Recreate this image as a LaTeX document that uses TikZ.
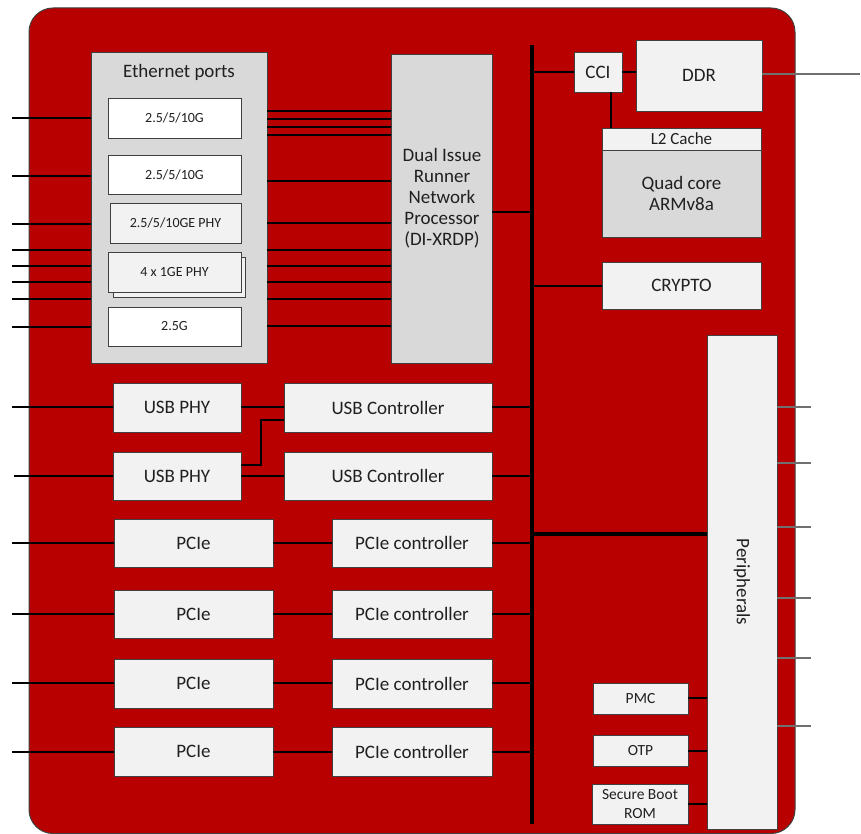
\documentclass[tikz,border=0pt]{standalone}
\usepackage{fontspec}
\setmainfont{Carlito}
\definecolor{chip}{HTML}{B90000}
\definecolor{gA}{HTML}{D9D9D9}
\definecolor{gB}{HTML}{F2F2F2}
\definecolor{edge}{HTML}{404040}
\definecolor{txt}{HTML}{202020}
\definecolor{outl}{HTML}{707070}
\tikzset{
  bx/.style={draw=edge, line width=0.8pt, inner sep=1pt, outer sep=0pt, text=txt, align=center, font=\fontsize{19}{21}\selectfont},
  sm/.style={font=\fontsize{14}{16}\selectfont},
  md/.style={font=\fontsize{15.5}{19}\selectfont},
  conn/.style={draw=black, line width=2pt},
  ext/.style={draw=outl, line width=1.4pt},
  busline/.style={draw=black, line width=3.6pt},
  lbl/.style={text=txt, align=center, font=\fontsize{19}{21}\selectfont},
}
\newcommand\blk[7][]{\node[bx,#1,minimum width={(#4-#2)*1pt},minimum height={(#5-#3)*1pt}] (#6) at ({(#2+#4)/2},{(#3+#5)/2}) {#7};}
\begin{document}
\begin{tikzpicture}[x=1pt,y=-1pt]
\useasboundingbox (0,0) rectangle (861,834);
% chip body
\draw[draw=edge, line width=1pt, fill=chip, rounded corners=24pt] (29,8) rectangle (795,833.5);

% Ethernet
\blk[fill=gA]{91}{52}{267}{363}{eth}{}
\node[lbl] (ethT) at (179,72) {Ethernet ports};
\blk[fill=white,sm]{108}{98}{241}{138}{e1}{2.5/5/10G}
\blk[fill=white,sm]{108}{155}{241}{194}{e2}{2.5/5/10G}
\blk[fill=gB,sm]{110}{203}{241}{243}{e3}{2.5/5/10GE PHY}
\blk[fill=gB]{113}{257}{245}{297}{e4s}{}
\blk[fill=gB,sm]{108}{252}{241}{292}{e4}{4 x 1GE PHY}
\blk[fill=white,sm]{108}{307}{241}{346}{e5}{2.5G}

% DI-XRDP
\blk[fill=gA]{391}{54}{492}{363}{dx}{}
\node[lbl] (dxT) at (442,198) {Dual Issue\\Runner\\Network\\Processor\\(DI-XRDP)};

% bus
\coordinate (busT) at (532,45);
\coordinate (busB) at (532,824);
\draw[busline] (busT) -- (busB);

% eth lines
\foreach \y [count=\i] in {118,176,224,250,266,282,299,327} {
  \coordinate (el\i) at (12,\y);
  \draw[conn] (el\i) -- (eth.west |- el\i);
}
\foreach \y in {111,119,127,135,181,223,250,266,282,299,326} {
  \draw[conn] (eth.east |- 0,\y) -- (dx.west |- 0,\y);
}
\draw[conn] (dx.east |- 0,212) -- (busT |- 0,212);

% USB
\blk[fill=gB]{113}{383}{241}{432}{up1}{USB PHY}
\blk[fill=gB]{284}{383}{492}{432}{uc1}{USB Controller}
\blk[fill=gB]{113}{452}{241}{500}{up2}{USB PHY}
\blk[fill=gB]{284}{452}{492}{500}{uc2}{USB Controller}
\coordinate (ul1) at (12,407);
\coordinate (ul2) at (14,476);
\draw[conn] (ul1) -- (up1.west |- ul1);
\draw[conn] (ul2) -- (up2.west |- ul2);
\draw[conn] (up1.east |- ul1) -- (uc1.west |- ul1);
\draw[conn] (up2.east |- ul2) -- (uc2.west |- ul2);
\draw[conn] (up2.east |- 0,465) -- ++(20,0) |- (uc1.west |- 0,420);
\draw[conn] (uc1.east |- ul1) -- (busT |- ul1);
\draw[conn] (uc2.east |- ul2) -- (busT |- ul2);

% PCIe
\foreach \a/\b/\c [count=\i] in {519/567/543,590/638/614,659/708/683,727/776/752} {
  \blk[fill=gB]{114}{\a}{273}{\b}{p\i}{PCIe}
  \blk[fill=gB]{332}{\a}{492}{\b}{pc\i}{PCIe controller}
  \coordinate (pl\i) at (12,\c);
  \draw[conn] (pl\i) -- (p\i.west |- pl\i);
  \draw[conn] (p\i.east |- pl\i) -- (pc\i.west |- pl\i);
  \draw[conn] (pc\i.east |- pl\i) -- (busT |- pl\i);
}

% CPU side
\blk[fill=gB]{574}{52}{622}{92}{cci}{CCI}
\blk[fill=gB]{636}{40}{762}{111}{ddr}{DDR}
\blk[fill=gB, font=\fontsize{17}{19}\selectfont]{602}{128}{761}{150}{l2}{L2 Cache}
\blk[fill=gA]{602}{150}{761}{237}{qc}{Quad core\\ARMv8a}
\blk[fill=gB]{602}{262}{761}{309}{cry}{CRYPTO}
\draw[conn] (busT |- cci.west) -- (cci.west);
\draw[conn] (cci.east) -- (ddr.west |- cci.east);
\coordinate (ddrOut) at (860,74);
\draw[ext] (ddr.east |- ddrOut) -- (ddrOut);
\draw[conn] (cci.south -| 611,0) -- (l2.north -| 611,0);
\draw[conn] (busT |- 0,286) -- (cry.west |- 0,286);

% Peripherals
\blk[fill=gB]{707}{335}{777}{829}{per}{}
\node[rotate=-90, lbl] (perT) at (per.center) {Peripherals};
\draw[line width=4pt] (busT |- 0,534) -- (per.west |- 0,534);
\foreach \y [count=\i] in {407,463,527,598,658,726} {
  \coordinate (pr\i) at (811,\y);
  \draw[ext] (per.east |- pr\i) -- (pr\i);
}
\blk[fill=gB,md]{593}{683}{688}{714}{pmc}{PMC}
\blk[fill=gB,md]{593}{735}{688}{766}{otp}{OTP}
\blk[fill=gB,md]{592}{784}{688}{824}{sbr}{Secure Boot\\ROM}
\draw[ext, draw=black] (pmc.east |- 0,698) -- (per.west |- 0,698);
\draw[ext, draw=black] (otp.east |- 0,751) -- (per.west |- 0,751);
\draw[ext, draw=black] (sbr.east |- 0,804) -- (per.west |- 0,804);
\end{tikzpicture}
\end{document}
